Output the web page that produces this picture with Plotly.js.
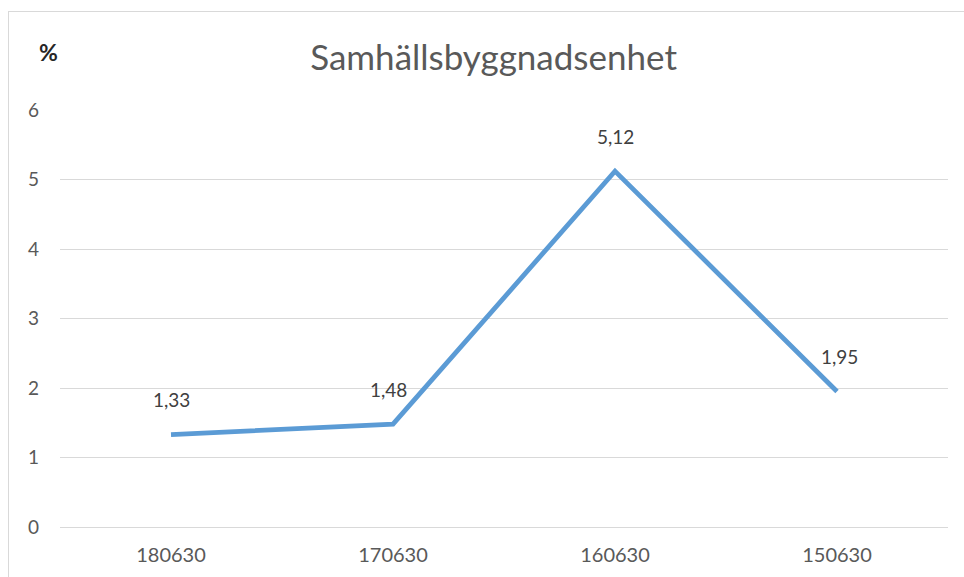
<!DOCTYPE html>
<html>
<head>
<meta charset="utf-8">
<script src="https://cdn.plot.ly/plotly-3.0.1.min.js"></script>
<style>
  body { margin: 0; background: #fff; }
  #frame { position: absolute; left: 8px; top: 11px; width: 980px; height: 600px; border: 1px solid #d9d9d9; }
  #graph { position: absolute; left: 0; top: 0; width: 964px; height: 577px; }
</style>
</head>
<body>
<div id="frame"></div>
<div id="graph"></div>
<script>
/* data */
const perioder = ['180630', '170630', '160630', '150630'];
const varden = [1.33, 1.48, 5.12, 1.95];
const etikettForskjutning = [0, -5, 0, 2];

const graph = document.getElementById('graph');

// datalabels ovanfor punkterna (x som index pga kategoriaxel med siffror)
const etiketter = perioder.map((p, i) => ({
    x: i,
    y: varden[i],
    text: varden[i].toFixed(2).replace('.', ','),
    showarrow: false,
    yshift: 35,
    xshift: etikettForskjutning[i],
    font: {family: 'Lato, sans-serif', size: 19, color: '#404040'}
}));

etiketter.push({
    xref: 'paper', yref: 'paper',
    x: -0.0135, y: 1.139,
    xanchor: 'center', yanchor: 'middle',
    text: '<b>%</b>',
    showarrow: false,
    font: {family: 'Lato, sans-serif', size: 23, color: '#262626'}
});

const layout = {
    title: {
        text: 'Samhällsbyggnadsenhet',
        x: 0.512, xanchor: 'center',
        y: 0.9, yref: 'container', yanchor: 'middle',
        font: {family: 'Lato, sans-serif', size: 35, color: '#595959'}
    },
    paper_bgcolor: 'rgba(0,0,0,0)',
    plot_bgcolor: 'rgba(0,0,0,0)',
    margin: {l: 60, r: 16, t: 110, b: 50},
    showlegend: false,
    xaxis: {
        type: 'category',
        range: [-0.5, 3.5],
        showgrid: false,
        zeroline: false,
        showline: false,
        ticks: '',
        ticklabelstandoff: 14,
        tickfont: {family: 'Lato, sans-serif', size: 20, color: '#595959'}
    },
    yaxis: {
        range: [0, 6],
        dtick: 1,
        showgrid: true,
        gridcolor: '#d9d9d9',
        gridwidth: 1,
        zeroline: true,
        zerolinecolor: '#d9d9d9',
        zerolinewidth: 1,
        showline: false,
        ticks: '',
        ticklabelstandoff: 20,
        tickfont: {family: 'Lato, sans-serif', size: 19, color: '#595959'}
    },
    annotations: etiketter
};

Plotly.newPlot(graph, [
    {
        type: 'scatter',
        mode: 'lines',
        x: perioder,
        y: varden,
        line: {color: '#5b9bd5', width: 4.8},
        hoverinfo: 'none'
    }
], layout, {staticPlot: true});
</script>
</body>
</html>
